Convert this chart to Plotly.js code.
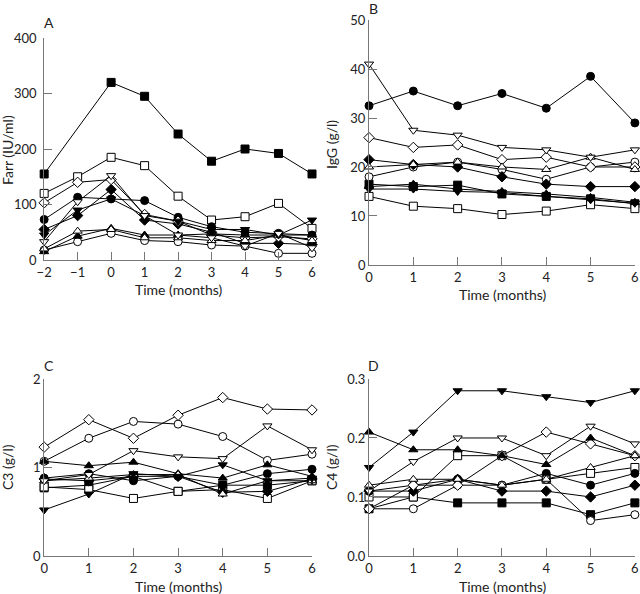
<!DOCTYPE html>
<html>
<head>
<meta charset="utf-8">
<script src="https://cdn.plot.ly/plotly-3.0.1.min.js"></script>
<style>
  html, body { margin: 0; padding: 0; background: #fff; }
  #myDiv { width: 640px; height: 594px; }
</style>
</head>
<body>
<div id="myDiv"></div>
<script>
// time points
var monthsA = [-2, -1, 0, 1, 2, 3, 4, 5, 6];
var monthsBCD = [0, 1, 2, 3, 4, 5, 6];

// one entry per patient, same order in every panel
var symbols = ['square', 'square', 'circle', 'circle', 'diamond', 'diamond',
               'triangle-up', 'triangle-up', 'triangle-down', 'triangle-down'];
var filled = [true, false, true, false, true, false, true, false, true, false];

// panel A: Farr (IU/ml)
var farr = [
  [155, null, 320, 295, 227, 178, 200, 192, 155],
  [120, 150, 185, 170, 115, 72, 78, 102, 57],
  [73, 113, 110, 107, 77, 60, 50, 48, 45],
  [18, 33, 48, 35, 33, 27, 25, 12, 12],
  [55, 80, 127, 72, 65, 50, 30, 30, 28],
  [103, 140, 145, 82, 70, 45, 40, 42, 38],
  [15, 43, 57, 45, 45, 47, 45, 45, 45],
  [20, 52, 55, 40, 40, 35, 35, 45, 35],
  [45, 90, 110, 80, 70, 55, 55, 45, 72],
  [33, 105, 152, 80, 45, 40, 25, 48, 22]
];

// panel B: IgG (g/l)
var igg = [
  [16.5, 16, 16.3, 14.5, 14, 13.5, 12.5],
  [14, 12, 11.5, 10.3, 11, 12.3, 11.5],
  [32.5, 35.5, 32.5, 35, 32, 38.5, 29],
  [18, 20, 21, 19.5, 17.5, 20, 21],
  [21.5, 20.5, 20, 18, 16.5, 16, 16],
  [26, 24, 24.5, 21.5, 22, 20, 20],
  [16, 16.5, 15.5, 15, 14.5, 13.8, 12.8],
  [20, 20.5, 21, 20, 19.5, 22, 19.5],
  [15.5, 15.5, 15, 14.8, 14, 13.3, 12.6],
  [41, 27.5, 26.5, 24, 23.5, 22, 23.5]
];

// panel C: C3 (g/l)
var c3 = [
  [0.77, 0.8, 0.9, 0.73, 0.8, 0.8, 0.85],
  [0.78, 0.75, 0.65, 0.73, 0.75, 0.65, 0.85],
  [0.88, 0.93, 0.85, 0.9, 0.8, 0.93, 0.98],
  [1.07, 1.33, 1.52, 1.49, 1.35, 1.08, 1.15],
  [0.87, 0.85, 0.9, 0.9, 0.72, 0.73, 0.87],
  [1.23, 1.54, 1.33, 1.59, 1.79, 1.66, 1.65],
  [1.07, 1.02, 1.06, 0.93, 0.88, 1.03, 0.9],
  [0.85, 0.88, 0.92, 0.92, 0.7, 0.85, 0.85],
  [0.52, 0.7, 0.93, 0.9, 1.03, 0.85, 0.88],
  [0.85, 0.92, 1.19, 1.12, 1.1, 1.47, 1.2]
];

// panel D: C4 (g/l)
var c4 = [
  [0.08, 0.1, 0.09, 0.09, 0.09, 0.07, 0.09],
  [0.1, 0.1, 0.17, 0.17, 0.13, 0.14, 0.15],
  [0.11, 0.12, 0.13, 0.12, 0.14, 0.12, 0.14],
  [0.08, 0.08, 0.12, 0.12, 0.13, 0.06, 0.07],
  [0.11, 0.11, 0.13, 0.11, 0.11, 0.1, 0.12],
  [0.08, 0.12, 0.12, 0.17, 0.21, 0.19, 0.17],
  [0.21, 0.18, 0.18, 0.17, 0.155, 0.2, 0.17],
  [0.12, 0.13, 0.13, 0.12, 0.13, 0.15, 0.17],
  [0.15, 0.21, 0.28, 0.28, 0.27, 0.26, 0.28],
  [0.11, 0.16, 0.2, 0.2, 0.17, 0.22, 0.19]
];

var data = [];
function addPanel(xs, rows, xa, ya) {
  rows.forEach(function (ys, i) {
    data.push({
      x: xs, y: ys, xaxis: xa, yaxis: ya,
      type: 'scatter', mode: 'lines+markers',
      connectgaps: true, cliponaxis: false, showlegend: false,
      line: { color: '#000', width: 1 },
      marker: {
        symbol: symbols[i], size: 8,
        color: filled[i] ? '#000' : '#fff',
        line: { color: '#000', width: 1 }
      }
    });
  });
}
addPanel(monthsA, farr, 'x', 'y');
addPanel(monthsBCD, igg, 'x2', 'y2');
addPanel(monthsBCD, c3, 'x3', 'y3');
addPanel(monthsBCD, c4, 'x4', 'y4');

var font = { family: 'Lato, sans-serif', size: 14, color: '#222' };
var tickFont = { family: 'Lato, sans-serif', size: 13, color: '#222' };

function xaxis(dom, range, anchor) {
  return {
    domain: dom, range: range, anchor: anchor, dtick: 1,
    showgrid: false, zeroline: false, showline: true, linecolor: '#777', linewidth: 1,
    ticks: 'inside', ticklen: 8, tickcolor: '#777',
    tickfont: tickFont
  };
}
function yaxis(dom, range, anchor, dtick, fmt) {
  return {
    domain: dom, range: range, anchor: anchor, dtick: dtick, tickformat: fmt,
    showgrid: false, zeroline: false, showline: true, linecolor: '#777', linewidth: 1,
    ticks: 'inside', ticklen: 8, tickcolor: '#777',
    tickfont: tickFont
  };
}

// text placed in page pixels
function label(text, px, py, angle) {
  return {
    text: text, x: px / 640, y: 1 - py / 594, xref: 'paper', yref: 'paper',
    xanchor: 'center', yanchor: 'middle', textangle: angle || 0,
    showarrow: false, font: font
  };
}

var yA = yaxis([0.5623, 0.936], [0, 400], 'x', 100);
yA.ticklabelstandoff = 4;

var layout = {
  width: 640, height: 594,
  margin: { l: 0, r: 0, t: 0, b: 0 },
  paper_bgcolor: '#fff', plot_bgcolor: '#fff',
  font: font,
  xaxis: xaxis([0.069, 0.4875], [-2, 6], 'y'),
  yaxis: yA,
  xaxis2: xaxis([0.5766, 0.992], [0, 6], 'y2'),
  yaxis2: yaxis([0.5539, 0.9663], [0, 50], 'x2', 10),
  xaxis3: xaxis([0.069, 0.4875], [0, 6], 'y3'),
  yaxis3: yaxis([0.064, 0.362], [0, 2], 'x3', 1),
  xaxis4: xaxis([0.5766, 0.992], [0, 6], 'y4'),
  yaxis4: yaxis([0.064, 0.362], [0, 0.3], 'x4', 0.1, '.1f'),
  annotations: [
    label('A', 49, 23), label('B', 373, 8), label('C', 49, 365), label('D', 373, 365),
    label('Farr (IU/ml)', 7, 150, -90), label('IgG (g/l)', 331, 145, -90),
    label('C3 (g/l)', 7, 467, -90), label('C4 (g/l)', 331, 467, -90),
    label('Time (months)', 178, 289), label('Time (months)', 502, 294),
    label('Time (months)', 178, 586), label('Time (months)', 502, 586)
  ]
};

Plotly.newPlot('myDiv', data, layout, { displayModeBar: false });
</script>
</body>
</html>
